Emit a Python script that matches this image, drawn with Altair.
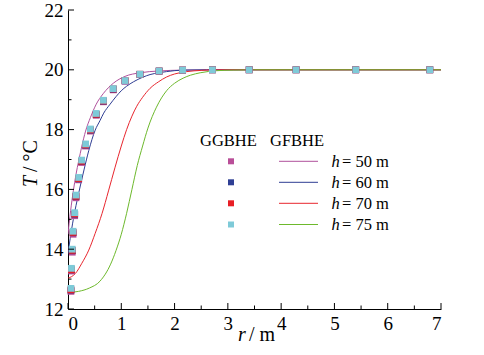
import altair as alt
import pandas as pd

# ---------------- data ----------------
# GFBHE lines (r in m, T in degC)
r_h50 = [0, 0.02, 0.05, 0.1, 0.15, 0.2, 0.26, 0.33, 0.42, 0.53, 0.66, 0.85, 1.07, 1.35, 1.7, 2.15, 2.7, 7]
T_h50 = [14.5, 14.85, 15.3, 15.95, 16.5, 16.95, 17.45, 17.95, 18.4, 18.85, 19.2, 19.55, 19.78, 19.9, 19.96, 19.99, 20, 20]

r_h60 = [0, 0.04, 0.1, 0.2, 0.3, 0.39, 0.51, 0.6, 0.67, 0.79, 0.9, 1.0, 1.1, 1.23, 1.4, 1.54, 1.7, 1.85, 2.16, 2.6, 7]
T_h60 = [13.85, 14.35, 15.0, 15.87, 16.65, 17.3, 17.98, 18.3, 18.55, 18.85, 19.1, 19.3, 19.45, 19.6, 19.75, 19.84, 19.9, 19.94, 19.99, 20, 20]

r_h70 = [0, 0.14, 0.26, 0.39, 0.51, 0.64, 0.76, 0.88, 1.0, 1.1, 1.2, 1.29, 1.4, 1.54, 1.7, 1.85, 2.0, 2.23, 2.5, 2.8, 3.2, 7]
T_h70 = [13.03, 13.19, 13.53, 13.97, 14.53, 15.2, 15.95, 16.72, 17.45, 18.0, 18.45, 18.78, 19.08, 19.38, 19.6, 19.76, 19.86, 19.94, 19.98, 20, 20, 20]

r_h75 = [0, 0.2, 0.4, 0.6, 0.8, 0.9, 1.0, 1.1, 1.2, 1.3, 1.4, 1.5, 1.66, 1.85, 2.0, 2.16, 2.3, 2.48, 2.79, 3.1, 3.5, 7]
T_h75 = [12.55, 12.59, 12.7, 12.93, 13.5, 13.95, 14.5, 15.2, 16.0, 16.8, 17.45, 18.05, 18.75, 19.3, 19.55, 19.72, 19.82, 19.9, 19.97, 19.99, 20, 20]

# GGBHE points
r_pts = [0.055, 0.065, 0.08, 0.095, 0.125, 0.15, 0.2, 0.255, 0.33, 0.42, 0.53, 0.665, 0.85, 1.07, 1.35, 1.71, 2.15, 2.71, 3.40, 4.28, 5.40, 6.79]
T_pts_h50 = [12.59, 13.27, 13.9, 14.5, 15.12, 15.72, 16.32, 16.9, 17.45, 17.95, 18.48, 18.93, 19.33, 19.62, 19.84, 19.95, 19.99, 20, 20, 20, 20, 20]
T_pts_h60 = [12.63, 13.31, 13.95, 14.55, 15.17, 15.76, 16.35, 16.93, 17.48, 17.98, 18.5, 18.95, 19.35, 19.63, 19.85, 19.96, 19.99, 20, 20, 20, 20, 20]
T_pts_h70 = [12.64, 13.31, 13.96, 14.56, 15.18, 15.77, 16.36, 16.94, 17.49, 17.99, 18.51, 18.96, 19.36, 19.64, 19.85, 19.96, 19.99, 20, 20, 20, 20, 20]
T_pts_h75 = [12.69, 13.36, 14.0, 14.6, 15.22, 15.81, 16.4, 16.98, 17.52, 18.02, 18.54, 18.98, 19.37, 19.64, 19.85, 19.96, 19.99, 20, 20, 20, 20, 20]

series = ["h50", "h60", "h70", "h75"]
legend_labels = ["= 50 m", "= 60 m", "= 70 m", "= 75 m"]
line_colors = ["#B0509C", "#2E3D93", "#E8262E", "#6DB92C"]
point_colors = ["#B94E98", "#2F3F94", "#E81E25", "#7ECAD8"]

x_major = [0, 1, 2, 3, 4, 5, 6, 7]
x_minor = [0.5, 1.5, 2.5, 3.5, 4.5, 5.5, 6.5]
y_major = [12, 14, 16, 18, 20, 22]
y_minor = [13, 15, 17, 19, 21]

# ---------------- chart ----------------
FONT = "Liberation Serif"
W, H = 373, 299

line_r = [r_h50, r_h60, r_h70, r_h75]
line_T = [T_h50, T_h60, T_h70, T_h75]
pt_T = [T_pts_h50, T_pts_h60, T_pts_h70, T_pts_h75]

xs = alt.Scale(domain=[0, 7], nice=False, zero=False)
ys = alt.Scale(domain=[12, 22], nice=False, zero=False)

base_x = alt.X("r:Q", scale=xs,
               axis=alt.Axis(values=x_major, format="d", title=None, grid=False, ticks=False, tickSize=0,
                             labelFont=FONT, labelFontSize=19, labelColor="black", labelPadding=5,
                             domainColor="black", domainWidth=1))
base_y = alt.Y("T:Q", scale=ys,
               axis=alt.Axis(values=y_major, format="d", title=None, grid=False, ticks=False, tickSize=0,
                             labelFont=FONT, labelFontSize=19, labelColor="black", labelPadding=5,
                             domainColor="black", domainWidth=1))

layers = []
for i, s in enumerate(series):
    df = pd.DataFrame({"r": line_r[i], "T": line_T[i]})
    layers.append(alt.Chart(df).mark_line(interpolate="monotone", strokeWidth=1, color=line_colors[i], clip=True)
                  .encode(x=base_x, y=base_y))
for i, s in enumerate(series):
    df = pd.DataFrame({"r": r_pts, "T": pt_T[i]})
    layers.append(alt.Chart(df).mark_square(size=46, filled=True, opacity=1, color=point_colors[i])
                  .encode(x=alt.X("r:Q", scale=xs), y=alt.Y("T:Q", scale=ys)))

# inward ticks
xt = pd.DataFrame({"v": x_major})
xtm = pd.DataFrame({"v": x_minor})
ytd = pd.DataFrame({"v": y_major})
ytm = pd.DataFrame({"v": y_minor})
layers.append(alt.Chart(xt).mark_rule(color="black", strokeWidth=1).encode(
    x=alt.X("v:Q", scale=xs), y=alt.value(H), y2=alt.value(H - 6)))
layers.append(alt.Chart(xtm).mark_rule(color="black", strokeWidth=1).encode(
    x=alt.X("v:Q", scale=xs), y=alt.value(H), y2=alt.value(H - 3.5)))
layers.append(alt.Chart(ytd).mark_rule(color="black", strokeWidth=1).encode(
    y=alt.Y("v:Q", scale=ys), x=alt.value(0), x2=alt.value(6)))
layers.append(alt.Chart(ytm).mark_rule(color="black", strokeWidth=1).encode(
    y=alt.Y("v:Q", scale=ys), x=alt.value(0), x2=alt.value(3.5)))

# axis titles with italic symbols
dummy = pd.DataFrame({"a": [0]})
def txt(text, x, y, size=18, italic=False, angle=None, align="left", baseline="alphabetic"):
    kw = dict(text=text, font=FONT, fontSize=size, color="black", align=align, baseline=baseline)
    if italic:
        kw["fontStyle"] = "italic"
    if angle is not None:
        kw["angle"] = angle
    return alt.Chart(dummy).mark_text(**kw).encode(x=alt.value(x), y=alt.value(y))

ox, oy = 68, 10
layers.append(txt("r", 238 - ox, 341 - oy, size=20, italic=True))
layers.append(txt("/ m", 249 - ox, 341 - oy, size=20))
layers.append(txt("T", 37 - ox, 187 - oy, size=20, italic=True, angle=270))
layers.append(txt("/ °C", 37 - ox, 172 - oy, size=20, angle=270))

# legend
layers.append(txt("GGBHE", 200 - ox, 146 - oy, size=16.5))
layers.append(txt("GFBHE", 270 - ox, 146 - oy, size=16.5))
row_y = [161.3, 182.3, 203.3, 224.5]
for i in range(4):
    yy = row_y[i] - oy
    layers.append(alt.Chart(dummy).mark_square(size=36, filled=True, opacity=1, color=point_colors[i])
                  .encode(x=alt.value(231 - ox), y=alt.value(yy)))
    layers.append(alt.Chart(dummy).mark_rule(color=line_colors[i], strokeWidth=1)
                  .encode(x=alt.value(279 - ox), x2=alt.value(318 - ox), y=alt.value(yy)))
    layers.append(txt("h", 331.5 - ox, yy + 5.5, size=16.5, italic=True))
    layers.append(txt(legend_labels[i], 342 - ox, yy + 5.5, size=16.5))

chart = alt.layer(*layers).properties(
    width=W, height=H,
    autosize=alt.AutoSizeParams(type="none"),
    padding={"left": 68, "top": 10, "right": 484 - 68 - W, "bottom": 355 - 10 - H},
    background="white",
).configure_view(stroke=None)

chart.save("out.html", embed_options={"renderer": "svg", "actions": False})
